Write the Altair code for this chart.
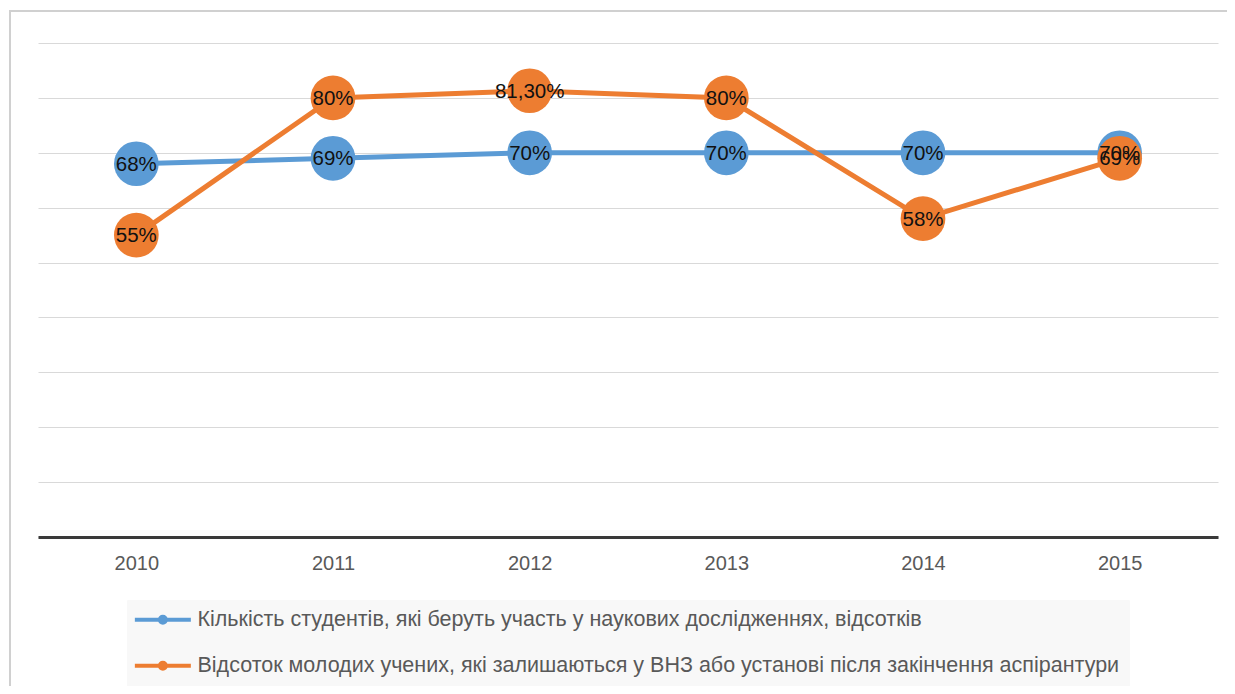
import altair as alt
import pandas as pd

years = ["2010", "2011", "2012", "2013", "2014", "2015"]
series_names = [
    "Кількість студентів, які беруть участь у наукових дослідженнях, відсотків",
    "Відсоток молодих учених, які залишаються у ВНЗ або установі після закінчення аспірантури",
]
students_vals = [68, 69, 70, 70, 70, 70]
students_labels = ["68%", "69%", "70%", "70%", "70%", "70%"]
young_vals = [55, 80, 81.3, 80, 58, 69]
young_labels = ["55%", "80%", "81,30%", "80%", "58%", "69%"]
colors = ["#5B9BD5", "#ED7D31"]

rows = []
for i, y in enumerate(years):
    rows.append({"year": y, "series": series_names[0], "value": students_vals[i], "label": students_labels[i], "ord": 0})
for i, y in enumerate(years):
    rows.append({"year": y, "series": series_names[1], "value": young_vals[i], "label": young_labels[i], "ord": 1})
df = pd.DataFrame(rows)

# legend symbol: line with a dot in the middle (unit = sqrt(size)/2 px)
sym_path = "M-1.7,0L6.3,0M1.87,0A0.43,0.43,0,1,0,2.73,0A0.43,0.43,0,1,0,1.87,0Z"

x_enc = alt.X("year:O", scale=alt.Scale(type="point", padding=0.5),
              axis=alt.Axis(title=None, labelAngle=0, labelFontSize=20, labelColor="#595959",
                            labelFont="Liberation Sans", labelPadding=16, ticks=False,
                            domainColor="#3a3a3a", domainWidth=3, grid=False))
y_enc = alt.Y("value:Q", scale=alt.Scale(domain=[0, 90], nice=False),
              axis=alt.Axis(title=None, labels=False, ticks=False, domain=False,
                            values=[0, 10, 20, 30, 40, 50, 60, 70, 80, 90],
                            gridColor="#d9d9d9", gridWidth=1.2))
color_enc = alt.Color("series:N", scale=alt.Scale(domain=series_names, range=colors),
                      legend=alt.Legend(title=None, orient="none", legendX=89, legendY=557,
                                        direction="vertical", symbolType=sym_path, symbolSize=196,
                                        symbolStrokeWidth=4, labelFontSize=21.5,
                                        labelFont="Liberation Sans",
                                        labelColor="#595959", labelLimit=0, labelOffset=40,
                                        rowPadding=23, padding=9, fillColor="#f8f8f8",
                                        strokeColor="#f8f8f8"))

base = alt.Chart(df)
lines = base.mark_line(strokeWidth=5).encode(x=x_enc, y=y_enc, color=color_enc, order="ord:Q")
points = base.mark_point(filled=True, size=2000, opacity=1, shape="circle").encode(
    x=x_enc, y=y_enc, color=color_enc, order="ord:Q")
texts = base.mark_text(fontSize=20.5, font="Liberation Sans", color="#111111", dy=1).encode(
    x=x_enc, y=y_enc, text="label:N", order="ord:Q")

frame = alt.Chart(alt.Data(values=[{}])).mark_rect(fill=None, stroke="#d0d0d0", strokeWidth=2).encode(
    x=alt.value(-28), x2=alt.value(1300), y=alt.value(-32), y2=alt.value(800))

chart = alt.layer(frame, lines, points, texts).properties(
    width=1180, height=494,
    autosize=alt.AutoSizeParams(type="none"),
    padding={"left": 30, "top": 35, "right": 9, "bottom": 149},
).configure(background="white").configure_view(strokeWidth=0, stroke="transparent")

chart.save("out.html", embed_options={"renderer": "svg", "actions": False})
